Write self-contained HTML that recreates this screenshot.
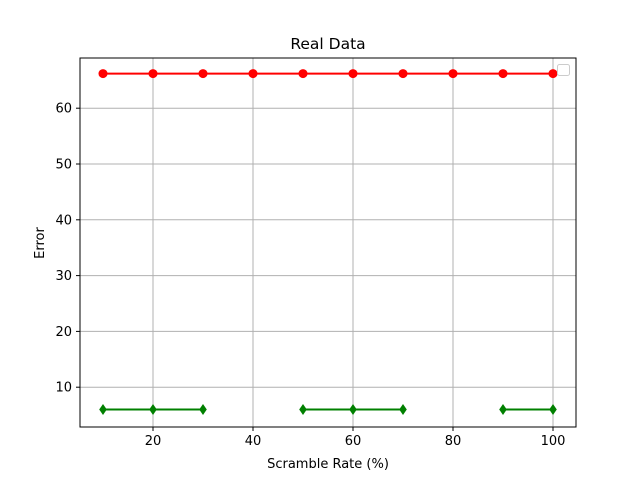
<!DOCTYPE html>
<html><head><meta charset="utf-8"><style>body{margin:0;background:#fff}svg{display:block;font-family:"DejaVu Sans","Liberation Sans",sans-serif}</style></head>
<body>
<svg id="c" width="640" height="480"></svg>
<script>
const xs=[10,20,30,40,50,60,70,80,90,100];
const redVals=[66.2,66.2,66.2,66.2,66.2,66.2,66.2,66.2,66.2,66.2];
const greenVals=[6,6,6,null,6,6,6,null,6,6];
const xTicks=[20,40,60,80,100];
const yTicks=[10,20,30,40,50,60];
const L=80,R=576,T=58,B=427;
const X=v=>53+v*5, Y=v=>443-v*5.58;
const NS="http://www.w3.org/2000/svg",s=document.getElementById('c');
function el(t,a,txt){const e=document.createElementNS(NS,t);for(const k in a)e.setAttribute(k,a[k]);if(txt!=null)e.textContent=txt;s.appendChild(e);return e;}
xTicks.forEach(v=>{
const g=el('line',{x1:X(v),x2:X(v),y1:T,y2:B,stroke:'#b0b0b0','stroke-width':1});


el('line',{x1:X(v),x2:X(v),y1:B,y2:B+4,stroke:'#000','stroke-width':1});
const t=el('text',{x:X(v),y:B+18,'text-anchor':'middle','font-size':13},v);


});
yTicks.forEach(v=>{
const g=el('line',{x1:L,x2:R,y1:Y(v),y2:Y(v),stroke:'#b0b0b0','stroke-width':1});


el('line',{x1:L-4,x2:L,y1:Y(v),y2:Y(v),stroke:'#000','stroke-width':1});
const t=el('text',{x:L-8,y:Y(v)+4.5,'text-anchor':'end','font-size':13},v);


});
function segs(vals){const out=[];let cur=[];vals.forEach((v,i)=>{if(v==null){if(cur.length)out.push(cur);cur=[];}else cur.push([X(xs[i]),Y(v)]);});if(cur.length)out.push(cur);return out;}
segs(redVals).forEach(p=>{const l=el('polyline',{points:p.join(' '),fill:'none',stroke:'red','stroke-width':2});

});
redVals.forEach((v,i)=>{if(v==null)return;const c=el('circle',{cx:X(xs[i]),cy:Y(v),r:4.5,fill:'red'});

});
segs(greenVals).forEach(p=>{const l=el('polyline',{points:p.join(' '),fill:'none',stroke:'green','stroke-width':2});

});
greenVals.forEach((v,i)=>{if(v==null)return;const x=X(xs[i]),y=Y(v);const d=el('polygon',{points:`${x},${y-5.5} ${x+3.8},${y} ${x},${y+5.5} ${x-3.8},${y}`,fill:'green'});

});
const f=el('rect',{x:L,y:T,width:R-L,height:B-T,fill:'none',stroke:'#000','stroke-width':1});


const lg=el('rect',{x:557.5,y:64.5,width:12,height:11,rx:2,fill:'#fff',stroke:'#ccc','stroke-width':1});


const ti=el('text',{x:328,y:49,'text-anchor':'middle','font-size':15.5},'Real Data');


const xl=el('text',{x:328,y:468,'text-anchor':'middle','font-size':13},'Scramble Rate (%)');


const yl=el('text',{x:44,y:243,'text-anchor':'middle','font-size':13,transform:'rotate(-90 44 243)'},'Error');


</script>
</body></html>
